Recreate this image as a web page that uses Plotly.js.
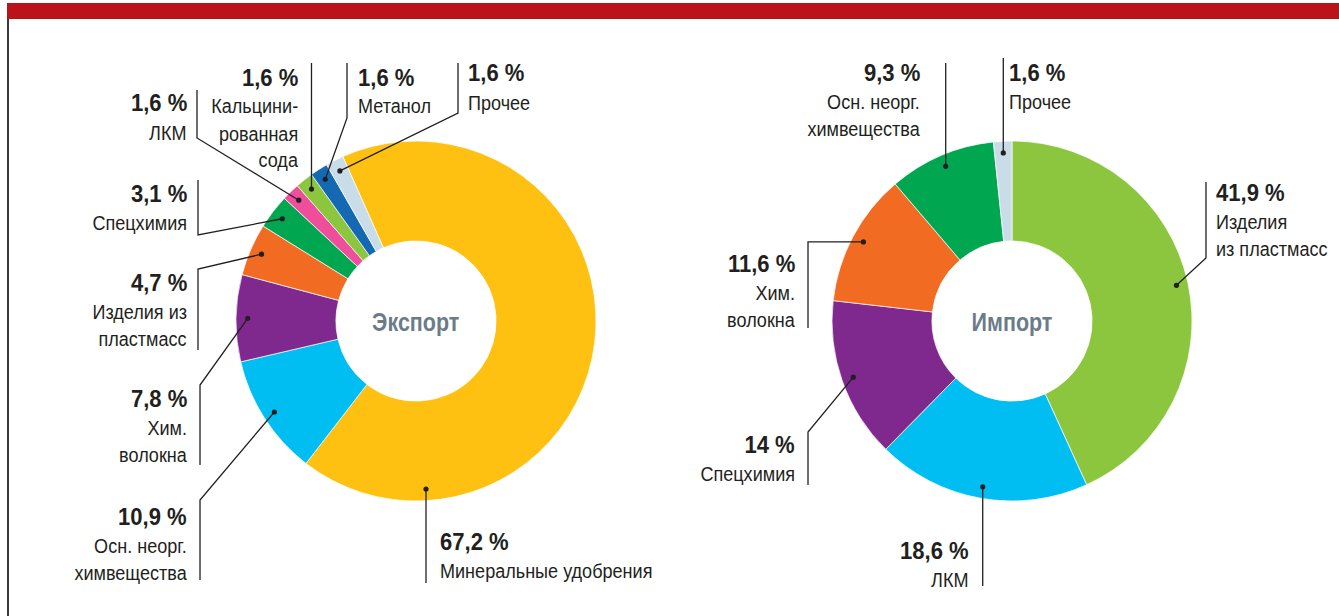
<!DOCTYPE html>
<html>
<head>
<meta charset="utf-8">
<script src="https://cdn.plot.ly/plotly-3.0.1.min.js"></script>
<style>
  html, body { margin: 0; padding: 0; background: #ffffff; }
  #chart { width: 1339px; height: 616px; }
</style>
</head>
<body>
<div id="chart"></div>
<script>
// ---------------- DATA ----------------
const exportLabels = ['Минеральные удобрения', 'Осн. неорг. химвещества', 'Хим. волокна', 'Изделия из пластмасс', 'Спецхимия', 'ЛКМ', 'Кальцинированная сода', 'Метанол', 'Прочее'];
const exportValues = [67.2, 10.9, 7.8, 4.7, 3.1, 1.6, 1.6, 1.6, 1.6];
const exportValueText = ['67,2 %', '10,9 %', '7,8 %', '4,7 %', '3,1 %', '1,6 %', '1,6 %', '1,6 %', '1,6 %'];
const exportLabelLines = [['Минеральные удобрения'], ['Осн. неорг.', 'химвещества'], ['Хим.', 'волокна'], ['Изделия из', 'пластмасс'], ['Спецхимия'], ['ЛКМ'], ['Кальцини-', 'рованная', 'сода'], ['Метанол'], ['Прочее']];

const importLabels = ['Изделия из пластмасс', 'ЛКМ', 'Спецхимия', 'Хим. волокна', 'Осн. неорг. химвещества', 'Прочее'];
const importValues = [41.9, 18.6, 14, 11.6, 9.3, 1.6];
const importValueText = ['41,9 %', '18,6 %', '14 %', '11,6 %', '9,3 %', '1,6 %'];
const importLabelLines = [['Изделия', 'из пластмасс'], ['ЛКМ'], ['Спецхимия'], ['Хим.', 'волокна'], ['Осн. неорг.', 'химвещества'], ['Прочее']];

const centerTitles = ['Экспорт', 'Импорт'];

// ---------------- STYLE / LAYOUT ----------------
const W = 1339, H = 616;
const exportColors = ['#FEC111', '#00BEF2', '#7F288D', '#F26B22', '#00A650', '#EE4E9B', '#8CC63E', '#1569B3', '#C8DDE8'];
const importColors = ['#8CC63E', '#00BEF2', '#7F288D', '#F26B22', '#00A650', '#C8DDE8'];
const FONT = 'Liberation Sans, Arial, sans-serif';
const TXT = '#231F20';
const SQUEEZE_LABEL = 0.86;  // horizontal squeeze to imitate the condensed typeface
const SQUEEZE_VALUE = 0.92;

const donuts = [
  {cx: 416, cy: 321, R: 180, hole: 0.445, rotation: -24},
  {cx: 1012, cy: 321, R: 180, hole: 0.445, rotation: 0}
];

// label placement: x,y of the bold value line, alignment; leader waypoints (null = same as previous)
const exportPlace = [
  {x: 438, y: 541, a: 'left',  f: 0.83, path: [[null, 583]]},
  {x: 189, y: 516, a: 'right', path: [[200, 500], [200, 580]]},
  {x: 189, y: 398, a: 'right', path: [[200, 385], [200, 465]]},
  {x: 189, y: 282, a: 'right', path: [[198, 269], [198, 350]]},
  {x: 189, y: 193, a: 'right', path: [[198, 235], [198, 180]]},
  {x: 189, y: 103, a: 'right', path: [[197, 138], [197, 90]]},
  {x: 300, y: 77,  a: 'right', path: [[null, 63]]},
  {x: 356, y: 77,  a: 'left',  path: [[347, 118], [347, 63]]},
  {x: 466, y: 73,  a: 'left',  path: [[458, 113], [458, 63]]}
];
const importPlace = [
  {x: 1214, y: 192, a: 'left',  path: [[1206, 258], [1206, 182]]},
  {x: 971,  y: 550, a: 'right', path: [[null, 586]]},
  {x: 797,  y: 444, a: 'right', path: [[808, 432], [808, 485]]},
  {x: 797,  y: 263, a: 'right', path: [[808, null], [808, 328]]},
  {x: 922,  y: 72,  a: 'right', path: [[null, 63]]},
  {x: 1007, y: 72,  a: 'left',  path: [[null, 58]]}
];

const px = x => x / W;
const py = y => 1 - y / H;

const traces = [];
const shapes = [];
const annotations = [];
const squeeze = [];

// background frame: red top bar and left rule
shapes.push({type: 'rect', xref: 'paper', yref: 'paper', x0: px(7), x1: 1, y0: py(19), y1: py(3), fillcolor: '#BA141A', line: {width: 0}, layer: 'below'});
shapes.push({type: 'line', xref: 'paper', yref: 'paper', x0: px(8), x1: px(8), y0: py(19), y1: 0, line: {color: '#3a3a3a', width: 2}});

function addDonut(d, labels, values, colors, valueText, lines, place, title) {
  traces.push({
    type: 'pie', labels: labels, values: values, sort: false, direction: 'clockwise',
    rotation: d.rotation, hole: d.hole, textinfo: 'none', hoverinfo: 'label+percent',
    marker: {colors: colors, line: {color: '#ffffff', width: 0.7}},
    domain: {x: [px(d.cx - d.R), px(d.cx + d.R)], y: [py(d.cy + d.R), py(d.cy - d.R)]},
    showlegend: false
  });
  annotations.push({xref: 'paper', yref: 'paper', x: px(d.cx), y: py(d.cy + 1), text: '<b>' + title + '</b>',
    showarrow: false, font: {family: FONT, size: 25, color: '#6B7C89'}, xanchor: 'center', yanchor: 'middle'});
  squeeze.push(SQUEEZE_LABEL);

  const total = values.reduce((s, v) => s + v, 0);
  let start = d.rotation;
  values.forEach((v, i) => {
    const span = v / total * 360;
    const p = place[i];
    const f = p.f !== undefined ? p.f : 0.5;
    const th = (start + f * span) * Math.PI / 180;
    const r = d.R * 0.935;
    const dx = d.cx + r * Math.sin(th);
    const dy = d.cy - r * Math.cos(th);
    start += span;

    // leader line
    let pts = [[dx, dy]];
    p.path.forEach(w => {
      const prev = pts[pts.length - 1];
      pts.push([w[0] === null ? prev[0] : w[0], w[1] === null ? prev[1] : w[1]]);
    });
    let pathStr = pts.map((q, k) => (k ? 'L' : 'M') + px(q[0]).toFixed(5) + ',' + py(q[1]).toFixed(5)).join(' ');
    shapes.push({type: 'path', xref: 'paper', yref: 'paper', path: pathStr, line: {color: TXT, width: 1.3}});
    const rr = 2.6;
    shapes.push({type: 'circle', xref: 'paper', yref: 'paper', x0: px(dx - rr), x1: px(dx + rr), y0: py(dy + rr), y1: py(dy - rr), fillcolor: TXT, line: {width: 0}});

    // texts
    annotations.push({xref: 'paper', yref: 'paper', x: px(p.x), y: py(p.y), text: '<b>' + valueText[i] + '</b>',
      showarrow: false, xanchor: p.a, yanchor: 'middle', align: p.a, font: {family: FONT, size: 24, color: TXT}});
    squeeze.push(SQUEEZE_VALUE);
    lines[i].forEach((ln, k) => {
      annotations.push({xref: 'paper', yref: 'paper', x: px(p.x), y: py(p.y + 29 + k * 27), text: ln,
        showarrow: false, xanchor: p.a, yanchor: 'middle', align: p.a, font: {family: FONT, size: 21, color: TXT}});
      squeeze.push(SQUEEZE_LABEL);
    });
  });
}

addDonut(donuts[0], exportLabels, exportValues, exportColors, exportValueText, exportLabelLines, exportPlace, centerTitles[0]);
addDonut(donuts[1], importLabels, importValues, importColors, importValueText, importLabelLines, importPlace, centerTitles[1]);

const layout = {
  width: W, height: H,
  margin: {l: 0, r: 0, t: 0, b: 0},
  paper_bgcolor: '#ffffff', plot_bgcolor: '#ffffff',
  showlegend: false,
  shapes: shapes,
  annotations: annotations
};
Plotly.newPlot('chart', traces, layout, {displayModeBar: false, staticPlot: true}).then(gd => {
  // squeeze every annotation horizontally around its anchor edge (condensed look)
  gd.querySelectorAll('g.annotation').forEach(g => {
    const idx = +g.getAttribute('data-index');
    const ann = annotations[idx];
    const t = g.querySelector('text.annotation-text');
    if (!t || !ann) return;
    const s = squeeze[idx];
    const bb = t.getBBox();
    const ax = ann.xanchor === 'left' ? bb.x : ann.xanchor === 'right' ? bb.x + bb.width : bb.x + bb.width / 2;
    t.setAttribute('transform', 'translate(' + ax + ',0) scale(' + s + ',1) translate(' + (-ax) + ',0)');
  });
});
</script>
</body>
</html>
